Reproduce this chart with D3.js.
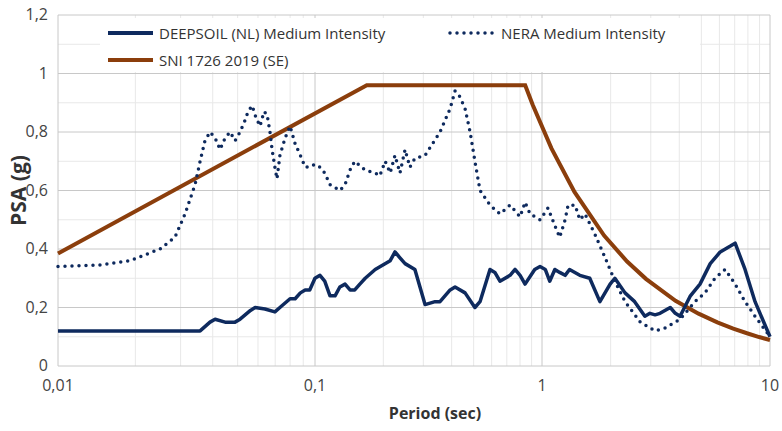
<!DOCTYPE html>
<html><head><meta charset="utf-8">
<script src="https://cdn.jsdelivr.net/npm/d3@7"></script>
<style>body{margin:0;background:#fff}text{font-family:"Open Sans",sans-serif}</style>
</head><body><svg id="c" width="782" height="431"></svg>
<script>
const deepPeriod=[0.01,0.0397,0.0437,0.0459,0.0506,0.0557,0.0585,0.0647,0.0677,0.0745,0.0820,0.0861,0.0950,0.0998,0.105,0.110,0.115,0.121,0.127,0.133,0.140,0.147,0.154,0.162,0.170,0.178,0.187,0.197,0.217,0.251,0.263,0.276,0.290,0.319,0.352,0.388,0.407,0.449,0.471,0.519,0.571,0.600,0.661,0.693,0.728,0.803,0.843,0.885,0.929,1.02,1.074,1.13,1.18,1.24,1.30,1.37,1.43,1.58,1.74,1.92,2.12,2.22,2.45,2.69,2.97,3.12,3.28,3.44,3.80,3.99,4.18,4.62,5.07,5.60,6.17,6.81,7.13,7.85,8.65,10];
const deepPSA=[0.12,0.12,0.15,0.16,0.15,0.15,0.16,0.19,0.20,0.195,0.185,0.20,0.23,0.23,0.25,0.26,0.26,0.30,0.31,0.29,0.24,0.24,0.27,0.28,0.26,0.26,0.28,0.30,0.33,0.36,0.39,0.37,0.35,0.33,0.21,0.22,0.22,0.26,0.27,0.25,0.20,0.22,0.33,0.32,0.29,0.31,0.33,0.31,0.28,0.33,0.34,0.33,0.29,0.33,0.32,0.31,0.33,0.31,0.30,0.22,0.28,0.30,0.25,0.22,0.17,0.18,0.175,0.18,0.20,0.18,0.17,0.24,0.28,0.35,0.39,0.41,0.42,0.33,0.22,0.10];
const neraPeriod=[0.01,0.0150,0.0201,0.0269,0.0311,0.0343,0.0378,0.0397,0.0416,0.0437,0.0459,0.0482,0.0506,0.0531,0.0557,0.0585,0.0614,0.0632,0.0658,0.0682,0.0710,0.0738,0.0760,0.0782,0.0798,0.0820,0.0837,0.0861,0.0906,0.0950,0.0998,0.105,0.110,0.115,0.121,0.127,0.133,0.140,0.154,0.162,0.170,0.178,0.197,0.217,0.227,0.239,0.251,0.263,0.276,0.290,0.304,0.319,0.352,0.407,0.449,0.471,0.494,0.519,0.545,0.571,0.600,0.661,0.728,0.803,0.885,0.929,0.975,1.074,1.16,1.24,1.30,1.37,1.41,1.51,1.58,1.66,1.83,2.02,2.22,2.45,2.84,3.28,3.61,4.18,4.83,5.32,5.86,6.47,7.13,7.85,8.65,10];
const neraPSA=[0.34,0.345,0.36,0.40,0.44,0.52,0.62,0.70,0.77,0.80,0.78,0.74,0.78,0.80,0.77,0.80,0.84,0.87,0.89,0.85,0.82,0.87,0.86,0.80,0.74,0.68,0.64,0.72,0.78,0.82,0.76,0.72,0.68,0.68,0.69,0.68,0.66,0.62,0.60,0.62,0.67,0.70,0.67,0.66,0.65,0.70,0.66,0.72,0.66,0.74,0.68,0.71,0.72,0.80,0.88,0.94,0.92,0.88,0.80,0.70,0.60,0.55,0.52,0.55,0.51,0.56,0.52,0.50,0.54,0.48,0.44,0.50,0.55,0.55,0.50,0.52,0.45,0.37,0.29,0.22,0.15,0.12,0.13,0.16,0.22,0.25,0.30,0.33,0.28,0.22,0.17,0.10];
const sniPeriod=[0.01,0.2,0.93,1,1.2,1.5,2,2.5,3,4,5,6,7,8,9,10];
const sniPSA=[0.385,0.96,0.96,0.893,0.744,0.595,0.446,0.357,0.298,0.223,0.179,0.149,0.128,0.112,0.099,0.089];
const xTicks=[0.01,0.1,1,10], xTickLabels=["0,01","0,1","1","10"];
const yTicks=[0,0.2,0.4,0.6,0.8,1,1.2], yTickLabels=["0","0,2","0,4","0,6","0,8","1","1,2"];
const names=["DEEPSOIL (NL) Medium Intensity","NERA Medium Intensity","SNI 1726 2019 (SE)"];

const svg=d3.select("#c");
const L=58,R=770,T=15,B=366;
// gridlines sit where the reference draws them (its decades are not equally wide)
const xGrid=d3.scaleLog().domain([0.01,0.1,1,10]).range([L,315,542,R]);
// curve periods were read on a uniform log grid spanning the plot
const x=d3.scaleLog().domain([0.01,10]).range([L,R]);
const y=d3.scaleLinear().domain([0,1.2]).range([B,T]);
const minorX=[];[0.01,0.1,1].forEach(d=>{for(let k=2;k<10;k++)minorX.push(d*k);});
svg.append("g").selectAll("line").data(minorX).join("line").attr("x1",d=>xGrid(d)).attr("x2",d=>xGrid(d)).attr("y1",T).attr("y2",B).attr("stroke","#e8e8e8");
svg.append("g").selectAll("line").data(d3.range(0.1,1.2,0.2)).join("line").attr("x1",L).attr("x2",R).attr("y1",d=>y(d)).attr("y2",d=>y(d)).attr("stroke","#e8e8e8");
svg.append("g").selectAll("line").data(xTicks).join("line").attr("x1",d=>xGrid(d)).attr("x2",d=>xGrid(d)).attr("y1",T).attr("y2",B).attr("stroke","#c8c8c8");
svg.append("g").selectAll("line").data(yTicks).join("line").attr("x1",L).attr("x2",R).attr("y1",d=>y(d)).attr("y2",d=>y(d)).attr("stroke","#c8c8c8");
svg.append("g").selectAll("text").data(yTicks).join("text").attr("x",L-10).attr("y",d=>y(d)+5).attr("text-anchor","end").attr("font-size",16).attr("fill","#444").text((d,i)=>yTickLabels[i]);
svg.append("g").selectAll("text").data(xTicks).join("text").attr("x",d=>xGrid(d)).attr("y",B+25).attr("text-anchor","middle").attr("font-size",16).attr("fill","#444").text((d,i)=>xTickLabels[i]);
svg.append("text").attr("transform",`translate(26,${(T+B)/2}) rotate(-90)`).attr("text-anchor","middle").attr("font-size",21).attr("font-weight","bold").attr("fill","#333").text("PSA (g)");
svg.append("text").attr("x",435).attr("y",419).attr("text-anchor","middle").attr("font-size",16).attr("font-weight","bold").attr("fill","#333").text("Period (sec)");
const line=d3.line().x(d=>x(d[0])).y(d=>y(d[1]));
const z=(a,b)=>a.map((v,i)=>[v,b[i]]);
svg.append("path").attr("d",line(z(sniPeriod,sniPSA))).attr("fill","none").attr("stroke","#8B3E0C").attr("stroke-width",4);
svg.append("path").attr("d",line(z(neraPeriod,neraPSA))).attr("fill","none").attr("stroke","#0E2A5E").attr("stroke-width",3.5).attr("stroke-dasharray","0 7").attr("stroke-linecap","round");
svg.append("path").attr("d",line(z(deepPeriod,deepPSA))).attr("fill","none").attr("stroke","#0E2A5E").attr("stroke-width",3.5).attr("stroke-linejoin","round");
// legend
svg.append("rect").attr("x",100).attr("y",18).attr("width",600).attr("height",54).attr("fill","#fff");
const lg=[{x:108,y:33,t:names[0],s:"solid",c:"#0E2A5E"},{x:450,y:33,t:names[1],s:"dot",c:"#0E2A5E"},{x:108,y:60,t:names[2],s:"solid",c:"#8B3E0C"}];
lg.forEach(o=>{const l=svg.append("line").attr("x1",o.x).attr("x2",o.x+45).attr("y1",o.y).attr("y2",o.y).attr("stroke",o.c).attr("stroke-width",o.s==="dot"?3.5:4).attr("stroke-linecap",o.s==="dot"?"round":"butt");
if(o.s==="dot")l.attr("stroke-dasharray","0 7");
svg.append("text").attr("x",o.x+51).attr("y",o.y+6).attr("font-size",15).attr("fill","#333").text(o.t);});
</script></body></html>
